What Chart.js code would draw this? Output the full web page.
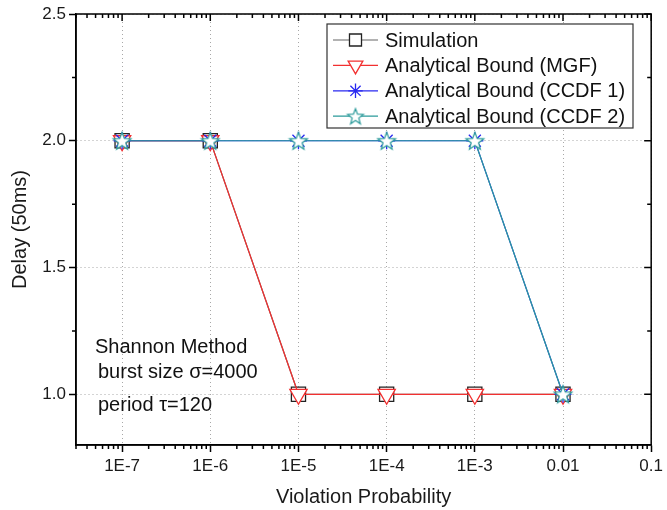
<!DOCTYPE html>
<html><head><meta charset="utf-8">
<script src="https://cdn.jsdelivr.net/npm/chart.js@4/dist/chart.umd.min.js"></script>
<style>html,body{margin:0;padding:0;background:#fff}#wrap{width:667px;height:510px}</style>
</head><body><div id="wrap"><canvas id="c" width="667" height="510"></canvas></div>
<script>
const probabilities = [1e-7, 1e-6, 1e-5, 1e-4, 1e-3, 1e-2];
const simulation = [2, 2, 1, 1, 1, 1];
const mgfBound = [2, 2, 1, 1, 1, 1];
const ccdf1Bound = [2, 2, 2, 2, 2, 1];
const ccdf2Bound = [2, 2, 2, 2, 2, 1];
const xTickValues = [1e-7, 1e-6, 1e-5, 1e-4, 1e-3, 1e-2, 1e-1];
const xTickLabels = ['1E-7', '1E-6', '1E-5', '1E-4', '1E-3', '0.01', '0.1'];
const yTickValues = [1.0, 1.5, 2.0, 2.5];
const yMinorValues = [1.25, 1.75, 2.25];
const seriesNames = ['Simulation', 'Analytical Bound (MGF)', 'Analytical Bound (CCDF 1)', 'Analytical Bound (CCDF 2)'];
const noteLines = ['Shannon Method', 'burst size \u03C3=4000', 'period \u03C4=120'];
const xTitle = 'Violation Probability';
const yTitle = 'Delay (50ms)';

const FONT = "'Liberation Sans', Arial, sans-serif";

function makeStar(color, outer, inner) {
  const c = document.createElement('canvas');
  c.width = 22; c.height = 22;
  const g = c.getContext('2d');
  g.beginPath();
  for (let i = 0; i < 10; i++) {
    const r = i % 2 ? inner : outer;
    const a = -Math.PI / 2 + i * Math.PI / 5;
    g.lineTo(11 + r * Math.cos(a), 11.8 + r * Math.sin(a));
  }
  g.closePath();
  g.fillStyle = '#fff'; g.fill();
  g.strokeStyle = color; g.lineWidth = 1.2; g.stroke();
  return c;
}
const tealStar = makeStar('#2a9a9a', 9.3, 3.9);
const tealStarSmall = makeStar('#2a9a9a', 8.3, 3.5);

function pts(arr) { return probabilities.map((p, i) => ({x: p, y: arr[i]})); }

const datasets = [
  {label: seriesNames[0], data: pts(simulation), borderColor: '#666', borderWidth: 1.2,
   pointStyle: 'rect', pointRadius: 10, pointBorderColor: '#222', pointBackgroundColor: '#fff', pointBorderWidth: 1.3, order: 4},
  {label: seriesNames[1], data: pts(mgfBound), borderColor: '#f23030', borderWidth: 1.2,
   pointStyle: 'triangle', pointRotation: 180, pointRadius: 10, pointBorderColor: '#f23030', pointBackgroundColor: '#fff', pointBorderWidth: 1.3, order: 3},
  {label: seriesNames[2], data: pts(ccdf1Bound), borderColor: '#2828f0', borderWidth: 1.2,
   pointStyle: 'star', pointRadius: 8.5, pointBorderColor: '#2828f0', pointBackgroundColor: '#fff', pointBorderWidth: 1.3, order: 2},
  {label: seriesNames[3], data: pts(ccdf2Bound), borderColor: '#2a9a9a', borderWidth: 1.2,
   pointStyle: tealStar, pointRadius: 9, pointBorderColor: '#2a9a9a', pointBackgroundColor: '#fff', pointBorderWidth: 1.2, order: 1}
];

const framePlugin = {
  id: 'frame',
  afterDraw(chart) {
    const ctx = chart.ctx;
    const a = chart.chartArea;
    const xs = chart.scales.x, ys = chart.scales.y;
    ctx.save();
    ctx.strokeStyle = '#000';
    ctx.lineWidth = 1.5;
    ctx.setLineDash([]);
    ctx.strokeRect(a.left, a.top, a.right - a.left, a.bottom - a.top);
    ctx.beginPath();
    for (let e = -8; e <= -1; e++) {
      for (let m = 2; m <= 9; m++) {
        const v = m * Math.pow(10, e);
        const px = xs.getPixelForValue(v);
        if (px < a.left - 0.5 || px > a.right + 0.5) continue;
        ctx.moveTo(px, a.bottom); ctx.lineTo(px, a.bottom + 4);
        ctx.moveTo(px, a.top); ctx.lineTo(px, a.top + 4);
      }
    }
    xTickValues.forEach(v => {
      const px = xs.getPixelForValue(v);
      ctx.moveTo(px, a.top); ctx.lineTo(px, a.top + 7);
    });
    yMinorValues.forEach(v => {
      const py = ys.getPixelForValue(v);
      ctx.moveTo(a.left, py); ctx.lineTo(a.left - 4, py);
      ctx.moveTo(a.right, py); ctx.lineTo(a.right - 4, py);
    });
    yTickValues.forEach(v => {
      const py = ys.getPixelForValue(v);
      ctx.moveTo(a.right, py); ctx.lineTo(a.right - 7, py);
    });
    ctx.stroke();

    // legend box
    const lx = 327, ly = 24, lw = 306, lh = 104;
    ctx.fillStyle = '#fff';
    ctx.fillRect(lx, ly, lw, lh);
    ctx.lineWidth = 1.2;
    ctx.strokeStyle = '#333';
    ctx.strokeRect(lx, ly, lw, lh);
    ctx.font = '20px ' + FONT;
    ctx.textBaseline = 'middle';
    ctx.textAlign = 'left';
    chart.data.datasets.forEach((ds, i) => {
      const y = 40 + i * 25.4;
      ctx.strokeStyle = ds.borderColor;
      ctx.lineWidth = 1.2;
      ctx.beginPath(); ctx.moveTo(333, y); ctx.lineTo(378, y); ctx.stroke();
      ctx.strokeStyle = ds.pointBorderColor;
      ctx.fillStyle = ds.pointBackgroundColor;
      ctx.lineWidth = ds.pointBorderWidth;
      const style = ds.pointStyle === tealStar ? tealStarSmall : ds.pointStyle;
      Chart.helpers.drawPoint(ctx, {pointStyle: style, radius: ds.pointRadius * 0.85, rotation: ds.pointRotation || 0, borderWidth: ds.pointBorderWidth}, 355.5, y);
      ctx.fillStyle = '#111';
      ctx.fillText(ds.label, 385, y + 1);
    });

    // annotation
    ctx.fillStyle = '#111';
    ctx.font = '20px ' + FONT;
    ctx.fillText(noteLines[0], 95, 347);
    ctx.fillText(noteLines[1], 98, 372);
    ctx.fillText(noteLines[2], 98, 405);
    ctx.restore();
  }
};

new Chart(document.getElementById('c'), {
  type: 'line',
  data: {datasets},
  options: {
    responsive: false,
    animation: false,
    events: [],
    layout: {padding: {top: 14, right: 11, left: 0, bottom: 0}},
    plugins: {legend: {display: false}, tooltip: {enabled: false}},
    elements: {line: {tension: 0, fill: false}},
    scales: {
      x: {
        type: 'logarithmic',
        position: 'bottom',
        min: Math.pow(10, -7.5),
        max: 0.1,
        afterBuildTicks: s => { s.ticks = xTickValues.map(v => ({value: v})); },
        afterFit: s => { s.height = 65; },
        ticks: {
          autoSkip: false, maxRotation: 0, padding: 4,
          color: '#1a1a1a', font: {family: FONT, size: 17},
          callback: (v) => xTickLabels[xTickValues.indexOf(v)]
        },
        grid: {color: '#a8a8a8', lineWidth: 1, drawTicks: true, tickLength: 7, tickColor: '#000', tickWidth: 1.5, tickBorderDash: []},
        border: {display: true, color: '#000', width: 1.5, dash: [1, 3]},
        title: {display: true, text: xTitle, color: '#1a1a1a', font: {family: FONT, size: 20}, padding: {top: 0, bottom: 1}}
      },
      y: {
        type: 'linear',
        min: 0.8,
        max: 2.5,
        afterBuildTicks: s => { s.ticks = yTickValues.map(v => ({value: v})); },
        afterFit: s => { s.width = 76; },
        ticks: {
          padding: 3, color: '#1a1a1a', font: {family: FONT, size: 17},
          callback: v => Number(v).toFixed(1)
        },
        grid: {color: '#a8a8a8', lineWidth: 1, drawTicks: true, tickLength: 7, tickColor: '#000', tickWidth: 1.5, tickBorderDash: []},
        border: {display: true, color: '#000', width: 1.5, dash: [1, 3]},
        title: {display: true, text: yTitle, color: '#1a1a1a', font: {family: FONT, size: 20}, padding: {top: 8, bottom: 0}}
      }
    }
  },
  plugins: [framePlugin]
});
</script>
</body></html>
